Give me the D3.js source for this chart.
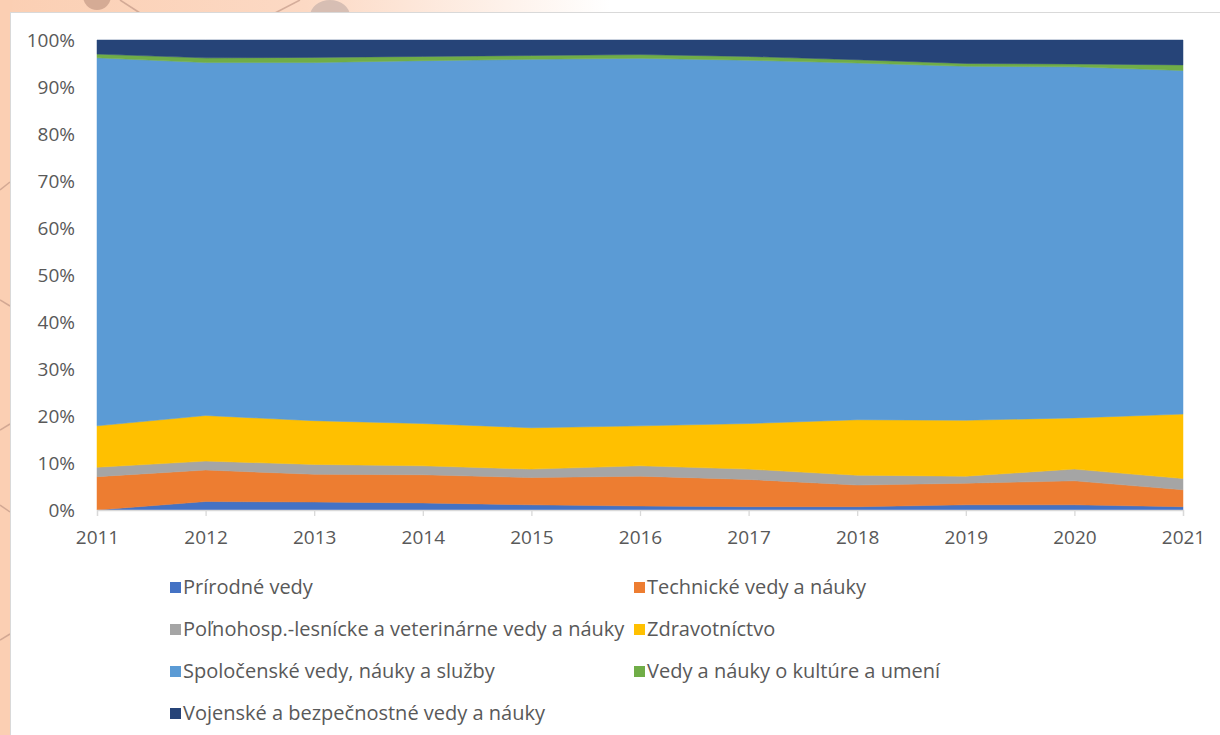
<!DOCTYPE html>
<html>
<head>
<meta charset="utf-8">
<script src="https://cdn.jsdelivr.net/npm/d3@7"></script>
<style>
  html, body { margin: 0; padding: 0; background: #ffffff; }
  svg { display: block; }
  text { font-family: "Open Sans", "Noto Sans", sans-serif; fill: #595959; }
</style>
</head>
<body>
<svg id="chart" width="1220" height="735"></svg>
<script>
// ---- data (percent shares) ----
const years = ["2011","2012","2013","2014","2015","2016","2017","2018","2019","2020","2021"];
const seriesNames = [
  "Prírodné vedy",
  "Technické vedy a náuky",
  "Poľnohosp.-lesnícke a veterinárne vedy a náuky",
  "Zdravotníctvo",
  "Spoločenské vedy, náuky a služby",
  "Vedy a náuky o kultúre a umení",
  "Vojenské a bezpečnostné vedy a náuky"
];
const prirodne    = [0.0, 1.8, 1.7, 1.5, 1.1, 0.85, 0.7, 0.7, 1.1, 1.1, 0.7];
const technicke   = [7.1, 6.7, 5.9, 6.0, 5.8, 6.35, 5.8, 4.6, 4.6, 5.1, 3.6];
const polnohosp   = [2.0, 1.9, 2.1, 1.9, 1.8, 2.2, 2.2, 2.1, 1.5, 2.5, 2.4];
const zdravot     = [8.8, 9.7, 9.3, 9.0, 8.8, 8.5, 9.7, 11.8, 11.9, 10.9, 13.7];
const spolocenske = [78.3, 75.1, 76.2, 77.2, 78.4, 78.2, 77.3, 75.9, 75.3, 74.7, 73.1];
const kultura     = [0.8, 1.0, 1.1, 0.9, 0.8, 0.8, 0.8, 0.7, 0.6, 0.6, 1.2];
const vojenske    = [3.0, 3.8, 3.7, 3.5, 3.3, 3.1, 3.5, 4.2, 5.0, 5.1, 5.3];
const yTicks = [0, 0.1, 0.2, 0.3, 0.4, 0.5, 0.6, 0.7, 0.8, 0.9, 1.0];
const colors = ["#4472C4","#ED7D31","#A5A5A5","#FFC000","#5B9BD5","#70AD47","#264478"];

const seriesValues = [prirodne, technicke, polnohosp, zdravot, spolocenske, kultura, vojenske];
const table = years.map((y, i) => {
  const row = { year: y };
  seriesNames.forEach((n, k) => row[n] = seriesValues[k][i]);
  return row;
});

const svg = d3.select("#chart");

// ---- decorative background (slide backdrop) ----
const defs = svg.append("defs");
const grad = defs.append("linearGradient").attr("id", "topfade").attr("x1", 0).attr("x2", 1).attr("y1", 0).attr("y2", 0);
grad.append("stop").attr("offset", 0).attr("stop-color", "#fbcfb3");
grad.append("stop").attr("offset", 0.25).attr("stop-color", "#fcd9c4");
grad.append("stop").attr("offset", 0.5).attr("stop-color", "#ffffff");
svg.append("rect").attr("x", 0).attr("y", 0).attr("width", 1220).attr("height", 735).attr("fill", "url(#topfade)");
svg.append("rect").attr("x", 0).attr("y", 0).attr("width", 12).attr("height", 735).attr("fill", "#fbcfb3");
const deco = svg.append("g").attr("fill", "none").attr("stroke", "#b98f7f").attr("stroke-width", 1.5).attr("opacity", 0.6);
[[0,190,10,182],[0,300,10,306],[0,430,10,424],[0,505,10,512],[0,640,10,634],[275,13,300,0],[120,0,140,13]].forEach(d =>
  deco.append("line").attr("x1", d[0]).attr("y1", d[1]).attr("x2", d[2]).attr("y2", d[3]));
svg.append("circle").attr("cx", 97).attr("cy", -4).attr("r", 14).attr("fill", "#c49a86").attr("opacity", 0.7);
svg.append("ellipse").attr("cx", 330).attr("cy", 16).attr("rx", 20).attr("ry", 16).attr("fill", "#cdb6ae").attr("opacity", 0.8);

// white chart panel
svg.append("rect").attr("x", 10.5).attr("y", 12.5).attr("width", 1215).attr("height", 730)
  .attr("fill", "#ffffff").attr("stroke", "#d9d9d9").attr("stroke-width", 1);

// ---- scales ----
const x = d3.scalePoint().domain(years).range([97, 1183]);
const y = d3.scaleLinear().domain([0, 1]).range([510, 40]);

const stack = d3.stack().keys(seriesNames).offset(d3.stackOffsetExpand);
const layers = stack(table);

const area = d3.area()
  .x(d => x(d.data.year))
  .y0(d => y(d[0]))
  .y1(d => y(d[1]));

svg.append("g").selectAll("path").data(layers).join("path")
  .attr("d", area)
  .attr("fill", (d, i) => colors[i])
  .attr("stroke", (d, i) => colors[i])
  .attr("stroke-width", 0.5);

// ---- axes ----
const xAxis = d3.axisBottom(x).tickSize(6).tickPadding(15);
const gx = svg.append("g").attr("transform", "translate(0,510)").call(xAxis);
gx.select(".domain").attr("stroke", "#d9d9d9").attr("stroke-width", 1.3);
gx.selectAll(".tick line").attr("stroke", "#d9d9d9").attr("stroke-width", 1.3);
gx.selectAll(".tick text").attr("font-size", 19).attr("fill", "#595959")
  .style("font-family", '"Open Sans", sans-serif');

const yAxis = d3.axisLeft(y).tickValues(yTicks).tickFormat(d3.format(".0%")).tickSize(0).tickPadding(22);
const gy = svg.append("g").attr("transform", "translate(97,0)").call(yAxis);
gy.select(".domain").remove();
gy.selectAll(".tick text").attr("font-size", 19).attr("fill", "#595959")
  .style("font-family", '"Open Sans", sans-serif');

// ---- legend ----
const legendPos = [
  [170, 587], [634, 587],
  [170, 629], [634, 629],
  [170, 671], [634, 671],
  [170, 713]
];
const lg = svg.append("g");
seriesNames.forEach((n, i) => {
  const [lx, ly] = legendPos[i];
  lg.append("rect").attr("x", lx).attr("y", ly - 5).attr("width", 11).attr("height", 11).attr("fill", colors[i]);
  lg.append("text").attr("x", lx + 13).attr("y", ly).attr("dy", "0.35em")
    .attr("font-size", 20).attr("fill", "#595959").text(n);
});
</script>
</body>
</html>
